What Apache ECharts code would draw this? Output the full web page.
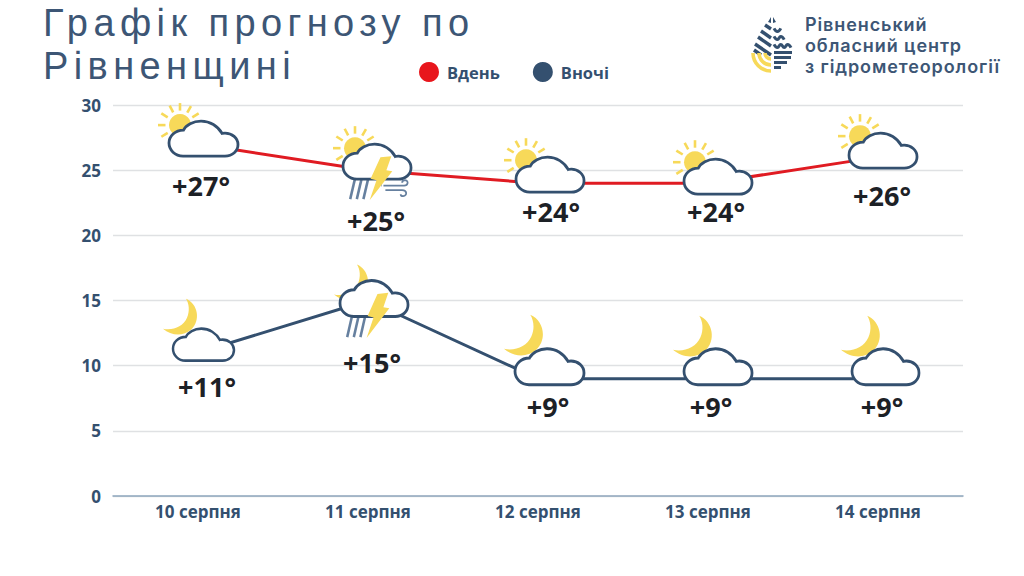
<!DOCTYPE html>
<html><head><meta charset="utf-8">
<style>
html,body{margin:0;padding:0;background:#fff}
#c{width:1024px;height:576px}
#c text[style*="Liberation Sans"]{letter-spacing:5.4px}
#c text[style*="Inter"]{letter-spacing:.9px}
</style>
<script src="https://cdn.jsdelivr.net/npm/echarts@6/dist/echarts.min.js"></script>
</head><body><div id="c"></div>
<script>
const categories = ['10 серпня','11 серпня','12 серпня','13 серпня','14 серпня'];
const dayValues = [27,25,24,24,26];
const nightValues = [11,15,9,9,9];
const yTicks = [0,5,10,15,20,25,30];
const dayIcons = ['sun','sunStormWind','sun','sun','sun'];
const nightIcons = ['moon','moonStorm','moon','moon','moon'];
const titleLines = ['Графік прогнозу по','Рівненщині'];
const seriesNames = ['Вдень','Вночі'];
const logoLines = ['Рівненський','обласний центр','з гідрометеорології'];

// icon placement relative to each data point: cloud [dx,dy,w,h], body offset, label offset
const dayLayout = [
 {c:[-29,-23,69,35], b:[-18,-19], l:[3,41]},
 {c:[-25,-26,68,35], b:[-13,-22], l:[8,50]},
 {c:[-22,-26,68,35], b:[-12,-23], l:[13,28]},
 {c:[-24,-24,68,35], b:[-13,-21], l:[8,28]},
 {c:[-29,-24,68,35], b:[-18,-21], l:[4,38]}
];
const nightLayout = [
 {c:[-25,-24,61,32], b:[-35,-54,35,36], l:[9,34]},
 {c:[-28,-20,68,36], b:[-34,-36,35,36], l:[4,62]},
 {c:[-23,-30,69,36], b:[-34,-64,40,41], l:[10,28]},
 {c:[-24,-30,68,36], b:[-35,-63,40,41], l:[3,28]},
 {c:[-26,-30,67,36], b:[-37,-63,40,41], l:[4,28]}
];
const NAVY='#34506f', YEL='#f7d959', GREY='#66809f';
const CLOUD='M14 35H56C63.5 35 69 30 69 23.5C69 17 63 12 56 12C55 12 54 12 53 12.3C49 5 41 0 32 0C24 0 17 4 14.5 9C6 9 0 15 0 22C0 29 6 35 14 35Z';
const MOON='M23 0C35 5 38 22 28 31C20 38 8 37 0 30C10 32 20 28 24 19C27 12 26 5 23 0Z';
const BOLT='M38 13L49 12L44 26L50 27L27 56L34 36L28 34.5Z';
const WIND='M41 41.5H62C66 41.5 67 36.5 63 36C61 36 60 37 60 38.5M43 46H60C65 46 65.5 51.5 61 52C59.5 52 58.5 51 58.5 50M39 41.5H39.5';

function sunEls(cx,cy){
  const out=[{type:'circle',shape:{cx,cy,r:11},style:{fill:YEL}}];
  [180,212,242,270,300,328,148].forEach(a=>{
    const t=a*Math.PI/180;
    out.push({type:'line',shape:{x1:cx+14.5*Math.cos(t),y1:cy+14.5*Math.sin(t),x2:cx+22*Math.cos(t),y2:cy+22*Math.sin(t)},
      style:{stroke:YEL,lineWidth:2.6}});
  });
  return out;
}
function iconItem(values,kinds,layout){
  return function(params,api){
    const i=params.dataIndex, p=api.coord([api.value(0),api.value(1)]);
    const L=layout[i], kind=kinds[i], ch=[];
    if(kind.startsWith('sun')) ch.push(...sunEls(p[0]+L.b[0],p[1]+L.b[1]));
    else ch.push({type:'group',x:p[0]+L.b[0],y:p[1]+L.b[1],scaleX:L.b[2]/35,scaleY:L.b[3]/36,
      children:[{type:'path',shape:{pathData:MOON},style:{fill:YEL}}]});
    const storm=kind.includes('Storm');
    const cloudKids=[];
    if(storm){
      [0,6.7,13.4].forEach(d=>cloudKids.push({type:'line',shape:{x1:12.3+d,y1:34,x2:7.3+d,y2:55},style:{stroke:GREY,lineWidth:2.6}}));
    }
    cloudKids.push({type:'path',shape:{pathData:CLOUD},style:{fill:'#fff',stroke:NAVY,lineWidth:2.8}});
    if(storm) cloudKids.push({type:'path',shape:{pathData:BOLT},style:{fill:YEL}});
    if(kind.includes('Wind')) cloudKids.push({type:'path',shape:{pathData:WIND},style:{fill:'none',stroke:GREY,lineWidth:1.8}});
    ch.push({type:'group',x:p[0]+L.c[0],y:p[1]+L.c[1],scaleX:L.c[2]/69,scaleY:L.c[3]/35,children:cloudKids});
    ch.push({type:'text',x:p[0]+L.l[0],y:p[1]+L.l[1],style:{text:'+'+values[i]+'°',align:'center',verticalAlign:'middle',
      fill:'#1d2126',font:'700 27px "Open Sans"'}});
    return {type:'group',children:ch};
  };
}
function wave(x1,x2,y){
  const pts=[];let up=true;
  for(let x=x1;x<=x2+0.01;x+=3.4){pts.push([x,y+(up?-1.6:1.6)]);up=!up;}
  return {type:'polyline',shape:{points:pts,smooth:0.5},style:{stroke:NAVY,lineWidth:3,fill:'none'}};
}
const logo=[
 {type:'polygon',shape:{points:[[771,17],[768,22],[771,23]]},style:{fill:NAVY}},
 {type:'polygon',shape:{points:[[773,17],[776,22],[773,23]]},style:{fill:NAVY}},
 ...[[765,25,771,29],[761,31,771,38],[758,37,771,46],[755,44,771,55],[754,50,761,55]].map(s=>({type:'line',shape:{x1:s[0],y1:s[1],x2:s[2],y2:s[3]},style:{stroke:NAVY,lineWidth:3.4}})),
 ...[6,12,18].map(r=>({type:'arc',shape:{cx:771,cy:53,r,startAngle:Math.PI/2,endAngle:Math.PI,clockwise:true},style:{stroke:YEL,lineWidth:3.6,fill:'none'}})),
 wave(774,781,30),wave(774,787,38),wave(774,791,46),
 ...[[792,52.5],[791,57.5],[787,62.5],[781,67.5]].map(s=>({type:'line',shape:{x1:774,y1:s[1],x2:s[0],y2:s[1]},style:{stroke:NAVY,lineWidth:3}})),
 ...logoLines.map((t,i)=>({type:'text',x:805,y:24+i*21,style:{text:t,fill:'#3d5675',font:'600 18px Inter',verticalAlign:'middle'}}))
];
const titleStyle={fontFamily:'Liberation Sans',fontWeight:400,fontSize:38,lineHeight:38,color:'#3d5675'};
const titleTops=[4,47];
const chart=echarts.init(document.getElementById('c'),null,{renderer:'svg'});
chart.setOption({
  animation:false,
  backgroundColor:'#fff',
  title:titleLines.map((t,i)=>({text:t,left:43,top:titleTops[i],padding:0,textStyle:titleStyle})),
  legend:{data:seriesNames,icon:'circle',left:414,top:57,itemWidth:20,itemHeight:20,itemGap:33,
    textStyle:{color:'#34506f',fontFamily:'Open Sans',fontWeight:700,fontSize:16.5,padding:[0,0,0,3]}},
  grid:{left:113,top:105,width:850,height:391,containLabel:false},
  xAxis:{type:'category',data:categories,axisTick:{show:false},
    axisLine:{lineStyle:{color:'#8fa6bd',width:1.5}},
    axisLabel:{color:'#34506f',fontFamily:'Open Sans',fontWeight:700,fontSize:17,margin:7}},
  yAxis:{type:'value',min:yTicks[0],max:yTicks[yTicks.length-1],interval:yTicks[1]-yTicks[0],
    axisLine:{show:false},axisTick:{show:false},
    splitLine:{lineStyle:{color:'#dfe1e3',width:1.3}},
    axisLabel:{color:'#34506f',fontFamily:'Open Sans',fontWeight:700,fontSize:17,margin:12}},
  graphic:logo,
  series:[
    {name:seriesNames[0],type:'line',data:dayValues,showSymbol:false,z:2,lineStyle:{color:'#e01b22',width:3},itemStyle:{color:'#e8161c'}},
    {name:seriesNames[1],type:'line',data:nightValues,showSymbol:false,z:2,lineStyle:{color:'#34506f',width:3},itemStyle:{color:'#34506f'}},
    {type:'custom',z:3,data:dayValues.map((v,i)=>[i,v]),encode:{x:0,y:1},renderItem:iconItem(dayValues,dayIcons,dayLayout)},
    {type:'custom',z:3,data:nightValues.map((v,i)=>[i,v]),encode:{x:0,y:1},renderItem:iconItem(nightValues,nightIcons,nightLayout)}
  ]
});
</script></body></html>
